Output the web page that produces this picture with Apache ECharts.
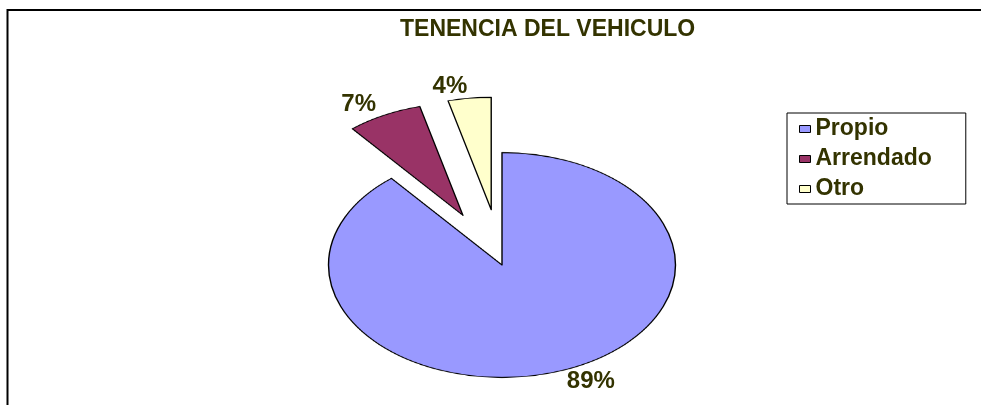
<!DOCTYPE html>
<html>
<head>
<meta charset="utf-8">
<script src="https://cdn.jsdelivr.net/npm/echarts@6/dist/echarts.min.js"></script>
<style>
    html, body { margin: 0; padding: 0; background: #fff; overflow: hidden; }
    #wrap { position: relative; width: 981px; height: 405px; overflow: hidden; }
    /* the pie is drawn round and squashed into an ellipse like the Excel original */
    #pie { position: absolute; left: 0; top: 0; width: 981px; height: 530px; transform: scaleY(0.648); transform-origin: 0 265px; }
    #main { position: absolute; left: 0; top: 0; width: 981px; height: 405px; }
</style>
</head>
<body>
<div id="wrap">
    <div id="pie"></div>
    <div id="main"></div>
</div>
<script>
const titleText = 'TENENCIA DEL VEHICULO'
const categories = ['Propio', 'Arrendado', 'Otro']
const values = [89, 7, 4]
const exploded = [false, true, true]

const sliceColors = ['#9999FF', '#993366', '#FFFFCC']
const textColor = '#333300'
const font = '"Liberation Sans", Arial, sans-serif'
const cx = 502, cy = 265, r = 173.5, squash = 0.648
const explode = 86, labelLen = 18

// slices (scaled layer)
const pieChart = echarts.init(document.getElementById('pie'))
pieChart.setOption({
    animation: false,
    series: [{
        type: 'pie',
        center: [cx, cy],
        radius: r,
        selectedMode: 'multiple',
        selectedOffset: explode,
        itemStyle: { borderColor: '#000', borderWidth: 1.4 },
        select: { itemStyle: { borderColor: '#000', borderWidth: 1.4 } },
        emphasis: { disabled: true },
        label: { show: false },
        labelLine: { show: false },
        data: categories.map((name, i) => ({
            name,
            value: values[i],
            selected: exploded[i],
            itemStyle: { color: sliceColors[i] }
        }))
    }]
})

// title, legend, frame and percentage labels (unscaled layer)
const chart = echarts.init(document.getElementById('main'))
chart.setOption({
    animation: false,
    title: {
        text: titleText,
        left: 400,
        top: 18,
        padding: 0,
        textStyle: { fontFamily: font, fontSize: 23, fontWeight: 'bold', color: textColor }
    },
    legend: {
        orient: 'vertical',
        left: 787,
        top: 113,
        padding: [1, 34, 0, 12],
        itemWidth: 11,
        itemHeight: 7,
        itemGap: 0,
        borderColor: '#000',
        borderWidth: 1,
        selectedMode: false,
        textStyle: {
            fontFamily: font, fontSize: 23, fontWeight: 'bold', color: textColor,
            lineHeight: 16, padding: [14, 0, 0, 0]
        },
        data: categories.map((name, i) => ({
            name,
            icon: 'rect',
            itemStyle: { color: sliceColors[i], borderColor: '#000', borderWidth: 1 }
        }))
    },
    graphic: [{
        type: 'rect',
        silent: true,
        shape: { x: 7.5, y: 10, width: 1100, height: 600 },
        style: { fill: 'none', stroke: '#000', lineWidth: 2 }
    }],
    series: [{
        type: 'pie',
        center: [cx, cy],
        radius: r,
        silent: true,
        selectedMode: 'multiple',
        selectedOffset: explode,
        avoidLabelOverlap: false,
        itemStyle: { color: 'rgba(0,0,0,0)', borderWidth: 0 },
        select: { itemStyle: { color: 'rgba(0,0,0,0)', borderWidth: 0 } },
        label: {
            show: true,
            position: 'outside',
            formatter: '{c}%',
            distanceToLabelLine: 0,
            fontFamily: font,
            fontSize: 24,
            fontWeight: 'bold',
            color: textColor
        },
        labelLine: { show: false, length: labelLen, length2: 0 },
        labelLayout: function (p) {
            // squash the label anchor the same way as the slices
            const mid = p.labelRect.y + p.labelRect.height / 2
            const dirY = (mid - cy) / (r + labelLen)
            const offY = exploded[p.dataIndex] ? explode * dirY : 0
            return { dy: (mid - cy + offY) * (squash - 1) }
        },
        data: categories.map((name, i) => ({ name, value: values[i], selected: exploded[i] }))
    }]
})
</script>
</body>
</html>
